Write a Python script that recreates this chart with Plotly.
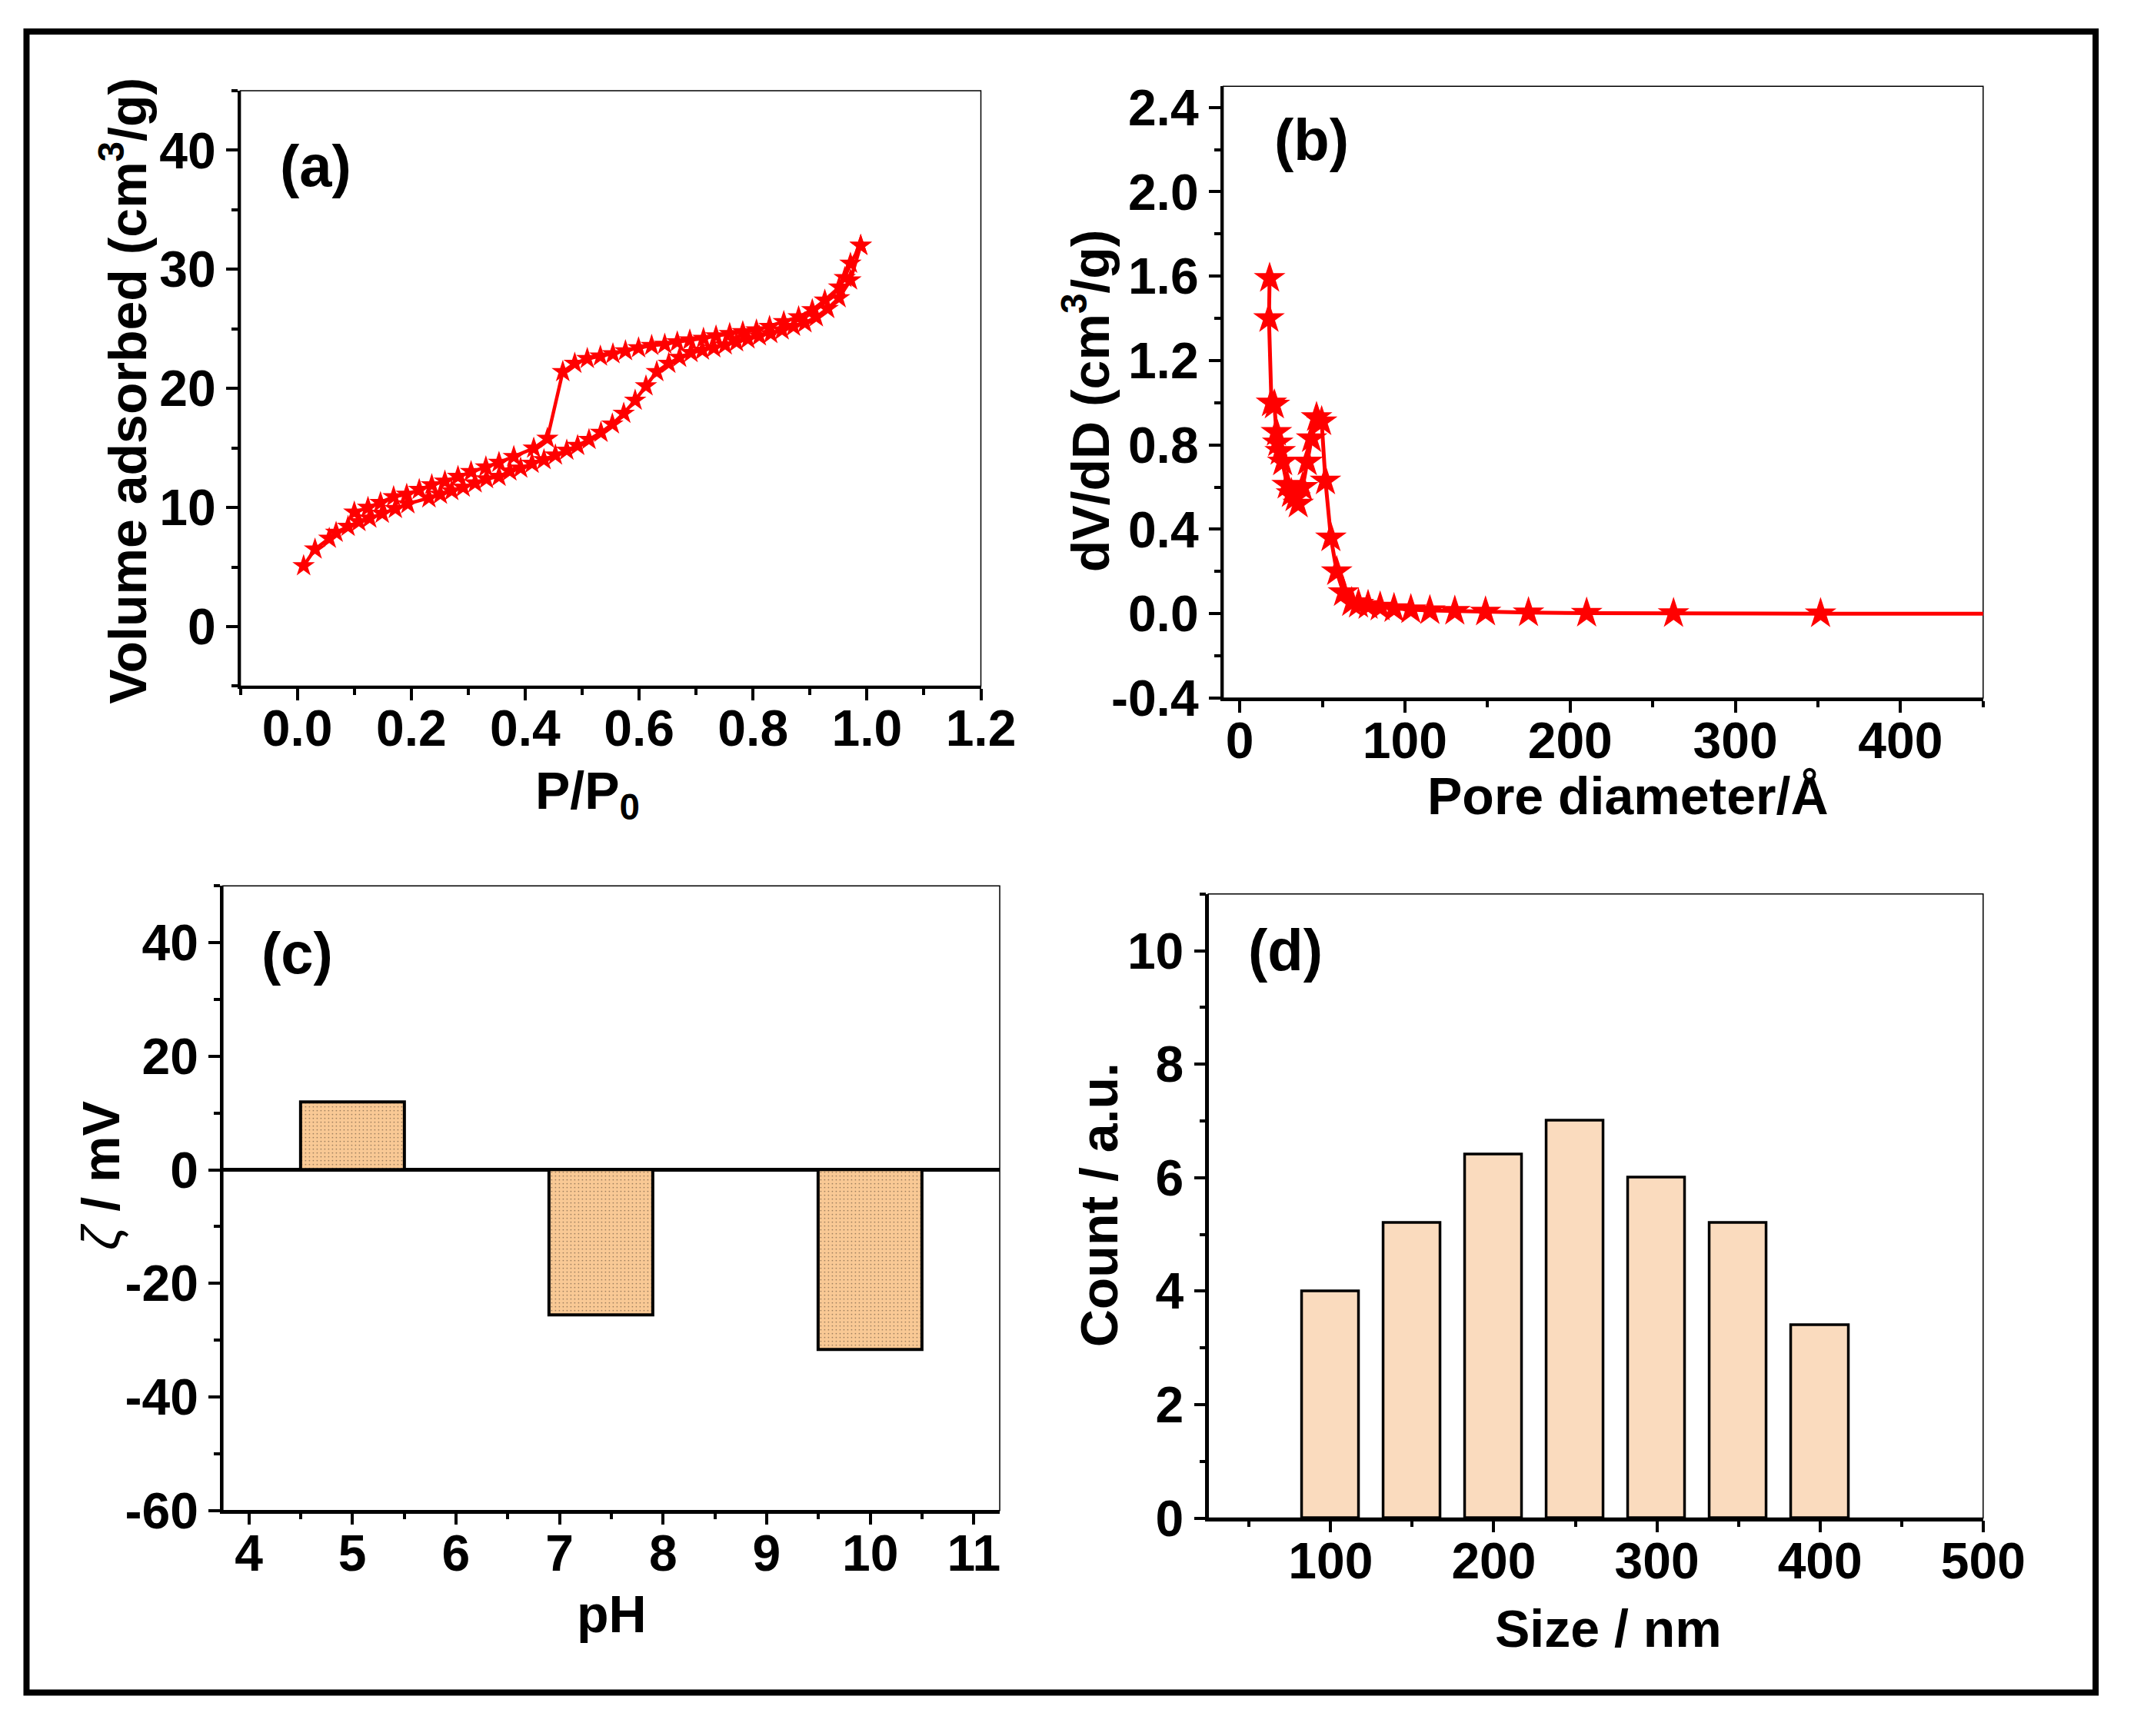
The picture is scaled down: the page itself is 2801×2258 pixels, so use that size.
import plotly.graph_objects as go

# ---------------- data ----------------
# (a) N2 adsorption / desorption isotherm
ads_p = [0.011, 0.031, 0.056, 0.068, 0.089, 0.108, 0.127, 0.149, 0.172, 0.194,
         0.231, 0.251, 0.271, 0.291, 0.312, 0.332, 0.354, 0.373, 0.392, 0.412,
         0.433, 0.453, 0.473, 0.492, 0.512, 0.533, 0.553, 0.573, 0.593, 0.612,
         0.631, 0.652, 0.671, 0.691, 0.711, 0.731, 0.751, 0.771, 0.791, 0.811,
         0.831, 0.851, 0.871, 0.891, 0.911, 0.931, 0.951, 0.971, 0.989]
ads_v = [5.1, 6.5, 7.4, 7.9, 8.4, 8.8, 9.1, 9.5, 9.9, 10.3,
         10.8, 11.1, 11.4, 11.7, 12.05, 12.4, 12.6, 13.05, 13.3, 13.7,
         14.0, 14.4, 14.8, 15.2, 15.7, 16.3, 17.0, 17.9, 19.0, 20.2,
         21.4, 22.1, 22.6, 23.0, 23.2, 23.4, 23.65, 23.9, 24.15, 24.4,
         24.6, 24.9, 25.2, 25.5, 26.0, 26.7, 27.6, 29.1, 32.0]
des_p = [0.989, 0.971, 0.961, 0.951, 0.926, 0.904, 0.880, 0.854, 0.829, 0.806,
         0.782, 0.759, 0.735, 0.713, 0.689, 0.667, 0.645, 0.622, 0.599, 0.576,
         0.554, 0.532, 0.509, 0.487, 0.466, 0.439, 0.415, 0.380, 0.354, 0.331,
         0.305, 0.282, 0.259, 0.236, 0.214, 0.192, 0.169, 0.146, 0.124, 0.100]
des_v = [32.0, 30.5, 29.3, 28.5, 27.4, 26.6, 26.0, 25.6, 25.2, 24.9,
         24.75, 24.6, 24.4, 24.2, 24.06, 23.9, 23.7, 23.6, 23.4, 23.15,
         22.9, 22.7, 22.5, 22.1, 21.4, 15.8, 14.97, 14.27, 13.78, 13.4,
         13.0, 12.6, 12.2, 11.9, 11.5, 11.1, 10.9, 10.4, 10.0, 9.6]

# (b) pore size distribution
pore_d = [18.1, 17.7, 19.2, 21.0, 22.2, 23.0, 24.5, 26.0, 28.7, 31.3, 33.5, 35.4,
          38.1, 40.9, 43.5, 46.5, 49.6, 51.9, 55.2, 58.7, 62.8, 67.8, 71.9,
          77.7, 85.0, 93.4, 103.6, 115.1, 130.2, 148.8, 174.8, 210.0, 262.6,
          351.6, 600.0]
dvdd = [1.59, 1.40, 1.00, 0.99, 0.86, 0.81, 0.77, 0.72, 0.61, 0.57, 0.55, 0.52,
        0.60, 0.72, 0.83, 0.93, 0.91, 0.63, 0.36, 0.20, 0.10, 0.053, 0.046,
        0.039, 0.032, 0.025, 0.019, 0.015, 0.012, 0.008, 0.005, 0.003, 0.001,
        0.0, 0.0]

# (c) zeta potential
ph = [5.0, 7.4, 10.0]
zeta = [12.0, -25.6, -31.6]

# (d) size distribution
size_nm = [100, 150, 200, 250, 300, 350, 400]
count = [4.0, 5.2, 6.4, 7.0, 6.0, 5.2, 3.4]

# tick labels
b_y_vals = [-0.4, 0.0, 0.4, 0.8, 1.2, 1.6, 2.0, 2.4]
b_y_text = ["-0.4", "0.0", "0.4", "0.8", "1.2", "1.6", "2.0", "2.4"]
c_y_vals = [-60, -40, -20, 0, 20, 40]
c_y_text = ["-60", "-40", "-20", "0", "20", "40"]

# ---------------- style ----------------
W, H = 2801, 2258
FONT = "Liberation Sans"
TICK_SIZE = 66
TITLE_SIZE = 68
LABEL_SIZE = 76
RED = "#FF0000"


def px(x):
    return x / W


def py(y):
    return 1 - y / H


def axis(domain, rng, anchor, dtick=None, minor_dtick=None, tick0=0, fmt=None,
         tickvals=None, ticktext=None, is_x=False):
    d = dict(
        domain=domain, range=rng, anchor=anchor,
        showline=True, linecolor="black", linewidth=3.5,
        ticks="outside", ticklen=15, tickwidth=3.5, tickcolor="black",
        tickfont=dict(family=FONT, size=TICK_SIZE, color="black", weight="bold"),
        showgrid=False, zeroline=False, fixedrange=True,
        minor=dict(ticks="outside", ticklen=8, tickwidth=3.5, tickcolor="black",
                   dtick=minor_dtick, tick0=tick0, showgrid=False),
    )
    if is_x:
        d["ticklabelstandoff"] = -20
    if tickvals is not None:
        d.update(tickmode="array", tickvals=tickvals, ticktext=ticktext)
    else:
        d.update(tickmode="linear", tick0=tick0, dtick=dtick)
    if fmt:
        d["tickformat"] = fmt
    return d


fig = go.Figure()

# (a)
fig.add_trace(go.Scatter(x=ads_p, y=ads_v, mode="lines+markers",
                         line=dict(color=RED, width=4.5),
                         marker=dict(symbol="star", size=22, color=RED),
                         xaxis="x", yaxis="y", showlegend=False))
fig.add_trace(go.Scatter(x=des_p, y=des_v, mode="lines+markers",
                         line=dict(color=RED, width=4.5),
                         marker=dict(symbol="star", size=22, color=RED),
                         xaxis="x", yaxis="y", showlegend=False))
# (b)
fig.add_trace(go.Scatter(x=pore_d, y=dvdd, mode="lines+markers",
                         line=dict(color=RED, width=5),
                         marker=dict(symbol="star", size=31, color=RED),
                         xaxis="x2", yaxis="y2", showlegend=False))
# (c)
fig.add_trace(go.Bar(x=ph, y=zeta, width=1.0,
                     marker=dict(color="#F9C995",
                                 line=dict(color="black", width=4),
                                 pattern=dict(shape=".", fillmode="overlay",
                                              fgcolor="black", size=5,
                                              solidity=0.08)),
                     xaxis="x3", yaxis="y3", showlegend=False))
# (d)
fig.add_trace(go.Bar(x=size_nm, y=count, width=35,
                     marker=dict(color="#FADBBE",
                                 line=dict(color="black", width=3.5)),
                     xaxis="x4", yaxis="y4", showlegend=False))

dom_a_x = [px(310.7), px(1292.9)]
dom_a_y = [py(893.6), py(103.1)]
dom_b_x = [px(1614.3), px(2622.3)]
dom_b_y = [py(909.5), py(97.3)]
dom_c_x = [px(287.5), px(1317.9)]
dom_c_y = [py(1988.2), py(1158.8)]
dom_d_x = [px(1594.6), px(2622.3)]
dom_d_y = [py(1998.3), py(1169.6)]

layout = dict(
    width=W, height=H, margin=dict(l=0, r=0, t=0, b=0),
    paper_bgcolor="white", plot_bgcolor="white",
    font=dict(family=FONT, color="black"),
    bargap=0,
    xaxis=axis(dom_a_x, [-0.1, 1.2], "y", dtick=0.2, minor_dtick=0.1, fmt=".1f",
               is_x=True),
    yaxis=axis(dom_a_y, [-5, 45], "x", dtick=10, minor_dtick=5),
    xaxis2=axis(dom_b_x, [-10, 450], "y2", dtick=100, minor_dtick=50, is_x=True),
    yaxis2=axis(dom_b_y, [-0.4, 2.5], "x2", minor_dtick=0.2,
                tickvals=b_y_vals, ticktext=b_y_text),
    xaxis3=axis(dom_c_x, [3.75, 11.25], "y3", dtick=1, minor_dtick=0.5, is_x=True),
    yaxis3=axis(dom_c_y, [-60, 50], "x3", minor_dtick=10,
                tickvals=c_y_vals, ticktext=c_y_text),
    xaxis4=axis(dom_d_x, [25, 500], "y4", dtick=100, minor_dtick=50, is_x=True),
    yaxis4=axis(dom_d_y, [0, 11], "x4", dtick=2, minor_dtick=1),
)
layout["yaxis3"].update(zeroline=True, zerolinecolor="black", zerolinewidth=5)
fig.update_layout(**layout)

# thin top/right frame of each plot + outer border
shapes = []
for xr, yr in [("x", "y"), ("x2", "y2"), ("x3", "y3"), ("x4", "y4")]:
    shapes.append(dict(type="rect", xref=f"{xr} domain", yref=f"{yr} domain",
                       x0=0, x1=1, y0=0, y1=1, layer="below",
                       line=dict(color="black", width=1.5)))
shapes.append(dict(type="rect", xref="paper", yref="paper",
                   x0=px(27), x1=px(2771.5), y0=py(2230), y1=py(24.5),
                   line=dict(color="black", width=8)))
fig.update_layout(shapes=shapes)


def txt(text, x, y, size, angle=0, shift=0):
    if angle == 0:
        y = y - shift
    else:
        x = x - shift
    return dict(text=text, x=px(x), y=py(y), xref="paper", yref="paper",
                showarrow=False, xanchor="center", yanchor="middle",
                textangle=angle,
                font=dict(family=FONT, size=size, color="black", weight="bold"))


annotations = [
    txt("(a)", 411, 212, LABEL_SIZE, shift=9),
    txt("(b)", 1731, 177, LABEL_SIZE, shift=9),
    txt("(c)", 386, 1257, LABEL_SIZE, shift=9),
    txt("(d)", 1697, 1253, LABEL_SIZE, shift=9),
    txt("Volume adsorbed (cm<sup>3</sup>/g)", 166, 501, TITLE_SIZE, -90, 10),
    txt("P/P<sub>0</sub>", 771, 1040, TITLE_SIZE, shift=3),
    txt("dV/dD (cm<sup>3</sup>/g)", 1443, 515, TITLE_SIZE, -90, 10),
    txt("Pore diameter/Å", 2151, 1042, TITLE_SIZE, shift=3),
    txt("<i><span style='font-weight:normal'>ζ</span></i> / mV", 135, 1544,
        TITLE_SIZE, -90, 10),
    txt("pH", 803, 2128, TITLE_SIZE, shift=3),
    txt("Count / a.u.", 1459, 1583, TITLE_SIZE, -90, 10),
    txt("Size / nm", 2125, 2148, TITLE_SIZE, shift=3),
]
fig.update_layout(annotations=annotations)

fig.write_html("out.html")
